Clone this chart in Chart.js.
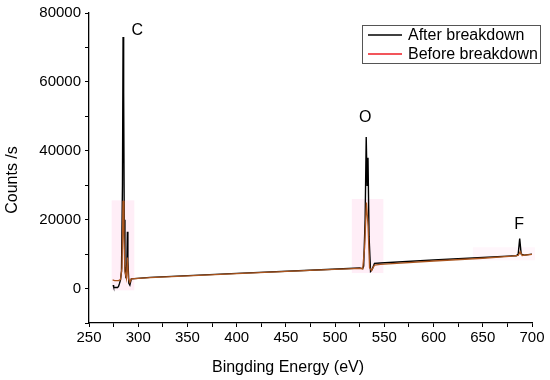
<!DOCTYPE html>
<html>
<head>
<meta charset="utf-8">
<script src="https://cdn.jsdelivr.net/npm/chart.js@4.4.1/dist/chart.umd.min.js"></script>
<style>
html,body{margin:0;padding:0;background:#fff;}
#wrap{width:550px;height:380px;position:relative;}
</style>
</head>
<body>
<div id="wrap"><canvas id="c" width="550" height="380"></canvas></div>
<script>
// ---- data ----
const seriesNames = ['After breakdown', 'Before breakdown'];
const afterX = [274.5,275,276,279,280,281,282,283,284,284.6,285.2,285.8,286.5,287.5,288.5,289,289.5,290.5,291.5,293,312,400,480,525,528,529,530.5,531.6,532.5,533.4,534.5,536,537.5,540,546,600,650,680,684,686,687.5,689,692,700];
const afterY = [1000,500,300,300,600,1500,2500,5000,30000,73000,57000,20000,6000,3000,8000,16500,8000,1500,1000,2800,3250,4400,5400,5950,5800,6500,20000,44000,30000,38000,15000,5000,5500,7300,7400,8300,9000,9500,9500,10000,14500,10000,9700,10000];
const beforeX = [274,276,280,282,283.5,284.6,285.5,286.5,288,289,290,291.5,293,312,400,480,525,528,530,531.8,533.5,535,537,540,546,600,650,680,686,688,690,700];
const beforeY = [2500,2300,2300,2600,6000,25500,15000,5000,3000,9000,3000,1800,2800,3200,4350,5350,5850,5700,12000,25000,18000,6000,5200,6800,7000,8000,8800,9400,9600,10700,9600,9900];
const xTicksMin = 250, xTicksMax = 700, xStep = 25;
const yTicksMin = -10000, yTicksMax = 80000, yStep = 10000;
const peakLabels = ['C', 'O', 'F'];
const peakLabelX = [299, 530.5, 687];
const peakLabelY = [75000, 49500, 18500];
// faint pink shading regions (data units)
const shadeX0 = [273, 517, 640];
const shadeX1 = [296, 549, 703];
const shadeY0 = [-500, 4500, 8200];
const shadeY1 = [25600, 26000, 12000];
const shadeAlpha = [0.26, 0.26, 0.14];

const toPts = (xs, ys) => xs.map((x, i) => ({x: x, y: ys[i]}));
const FONT = "'Liberation Sans', Arial, sans-serif";

const shadePlugin = {
  id: 'shade',
  beforeDatasetsDraw(chart) {
    const {ctx, scales: {x, y}, chartArea} = chart;
    ctx.save();
    ctx.beginPath();
    ctx.rect(chartArea.left, chartArea.top, chartArea.right - chartArea.left + 20, chartArea.bottom - chartArea.top);
    ctx.clip();
    for (let i = 0; i < shadeX0.length; i++) {
      ctx.fillStyle = 'rgba(255,190,225,' + shadeAlpha[i] + ')';
      const px0 = x.getPixelForValue(shadeX0[i]), px1 = x.getPixelForValue(shadeX1[i]);
      const py0 = y.getPixelForValue(shadeY0[i]), py1 = y.getPixelForValue(shadeY1[i]);
      ctx.fillRect(px0, py1, px1 - px0, py0 - py1);
    }
    ctx.restore();
  }
};

const decoPlugin = {
  id: 'deco',
  afterDraw(chart) {
    const {ctx, scales: {x, y}} = chart;
    ctx.save();
    // peak labels
    ctx.fillStyle = '#000';
    ctx.font = '16px ' + FONT;
    ctx.textAlign = 'center';
    ctx.textBaseline = 'middle';
    peakLabels.forEach((t, i) => {
      ctx.fillText(t, x.getPixelForValue(peakLabelX[i]), y.getPixelForValue(peakLabelY[i]));
    });
    // axis titles
    ctx.font = '16px ' + FONT;
    ctx.fillText('Bingding Energy (eV)', 288, 368);
    ctx.save();
    ctx.translate(13, 180);
    ctx.rotate(-Math.PI / 2);
    ctx.fillText('Counts /s', 0, 0);
    ctx.restore();
    // legend
    const lx = 362.5, ly = 25.5, lw = 178, lh = 38;
    ctx.strokeStyle = '#555';
    ctx.lineWidth = 1;
    ctx.strokeRect(lx, ly, lw, lh);
    const legColors = ['#000000', '#ee1c24'];
    const rowsY = [35, 54];
    ctx.textAlign = 'left';
    ctx.font = '16px ' + FONT;
    seriesNames.forEach((n, i) => {
      ctx.strokeStyle = legColors[i];
      ctx.lineWidth = 1.5;
      ctx.beginPath();
      ctx.moveTo(368, rowsY[i]);
      ctx.lineTo(402, rowsY[i]);
      ctx.stroke();
      ctx.fillStyle = '#000';
      ctx.fillText(n, 408, rowsY[i] + 1);
    });
    ctx.restore();
  }
};

new Chart(document.getElementById('c'), {
  type: 'line',
  data: {
    datasets: [
      {label: seriesNames[0], data: toPts(afterX, afterY), borderColor: '#000', borderWidth: 1.4, pointRadius: 0, tension: 0, order: 1},
      {label: seriesNames[1], data: toPts(beforeX, beforeY), borderColor: 'rgb(170,85,30)', borderWidth: 1.3, pointRadius: 0, tension: 0, order: 0}
    ]
  },
  options: {
    responsive: false,
    animation: false,
    devicePixelRatio: 1,
    layout: {padding: {left: 0, right: 18, top: 11, bottom: 0}},
    plugins: {legend: {display: false}, tooltip: {enabled: false}},
    scales: {
      x: {
        type: 'linear', min: xTicksMin, max: xTicksMax,
        ticks: {stepSize: xStep, color: '#000', font: {size: 15, family: FONT}, padding: 2, maxRotation: 0, autoSkip: false,
          callback: v => (v % 50 === 0 ? String(v) : '')},
        grid: {display: true, drawOnChartArea: false, drawTicks: true, tickLength: 4, tickColor: '#000', tickWidth: 1},
        border: {display: true, color: '#000', width: 1.3},
        afterFit: s => { s.height = 57; }
      },
      y: {
        type: 'linear', min: yTicksMin, max: yTicksMax,
        ticks: {stepSize: yStep, color: '#000', font: {size: 15, family: FONT}, padding: 4,
          callback: v => (v >= 0 && v % 20000 === 0 ? String(v) : '')},
        grid: {display: true, drawOnChartArea: false, drawTicks: true, tickLength: 4, tickColor: '#000', tickWidth: 1},
        border: {display: true, color: '#000', width: 1.3},
        afterFit: s => { s.width = 89; }
      }
    }
  },
  plugins: [shadePlugin, decoPlugin]
});
</script>
</body>
</html>
